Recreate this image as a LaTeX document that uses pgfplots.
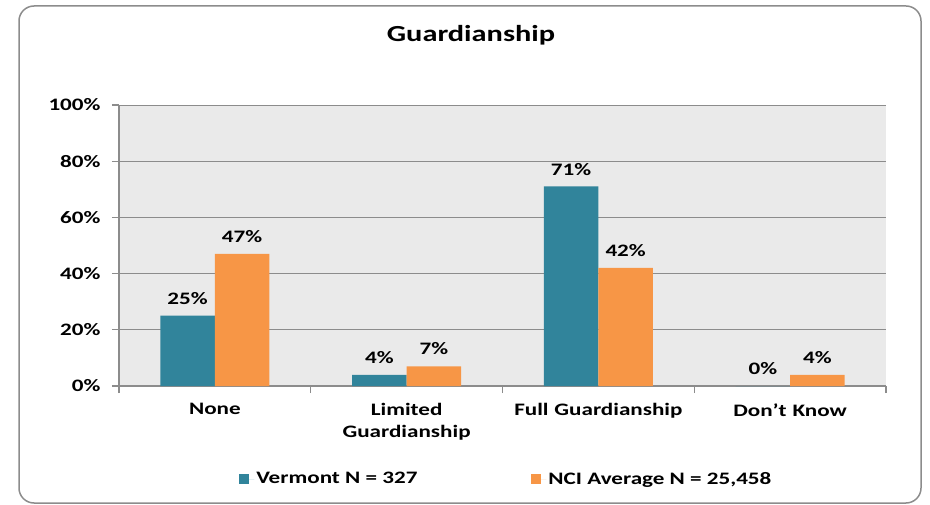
\documentclass[border=0pt]{standalone}
\usepackage{fontspec}
\setmainfont{Carlito}[FakeStretch=1.32]
\usepackage{pgfplots}
\pgfplotsset{compat=1.18}
\definecolor{teal1}{HTML}{31849B}
\definecolor{orange1}{HTML}{F79646}
\definecolor{bgray}{HTML}{EAEAEA}
\definecolor{lgray}{HTML}{8C8C8C}
\begin{document}
\begin{tikzpicture}[x=1pt,y=1pt]
\path[use as bounding box] (0,0) rectangle (930,504);
\draw[lgray, line width=1.5pt, rounded corners=15pt] (19,1) rectangle (921,498);
\node[anchor=base, inner sep=0pt, font=\fontsize{23}{27}\selectfont\bfseries] at (471,462) {Guardianship};
\begin{axis}[
  at={(119pt,118pt)}, anchor=south west,
  width=767pt, height=281pt, scale only axis,
  xmin=-0.5, xmax=3.5, ymin=0, ymax=100,
  ybar=0pt, bar width=54.5pt,
  axis background/.style={fill=bgray},
  axis x line*=bottom, axis y line*=left,
  axis line style={lgray, line width=1.2pt},
  ymajorgrids, grid style={lgray, line width=0.9pt},
  tick align=outside, major tick length=7pt,
  ytick={0,20,40,60,80,100},
  yticklabels={0\%,20\%,40\%,60\%,80\%,100\%},
  ytick style={lgray, line width=1.2pt},
  y tick label style={font=\fontsize{17.5}{21}\selectfont\bfseries, xshift=-8pt},
  xtick={0,1,2,3},
  xticklabels={None, Limited Guardianship, Full Guardianship, Don’t Know},
  xtick style={draw=none},
  x tick label style={font=\fontsize{17.5}{22}\selectfont\bfseries, text width=175pt, align=center, yshift=-7pt},
  extra x ticks={-0.5,0.5,1.5,2.5,3.5},
  extra x tick labels={},
  extra x tick style={grid=none, xtick style={draw=lgray, line width=1.2pt}},
  nodes near coords={\pgfmathprintnumber[assume math mode=true]{\pgfplotspointmeta}\%},
  every node near coord/.append style={font=\fontsize{17.5}{21}\selectfont\bfseries, inner sep=0pt, anchor=south, yshift=11pt, text=black},
  legend image code/.code={\fill[#1] (0pt,-5pt) rectangle (10pt,5pt); \path (0pt,0pt) -- (15pt,0pt);},
  legend style={at={(0.505,-0.331)}, anchor=center, draw=none, fill=none,
    legend columns=2, font=\fontsize{17.5}{21}\selectfont\bfseries,
    /tikz/every even column/.append style={column sep=112pt}},
]
\addplot[fill=teal1, draw=none] coordinates {(0,25) (1,4) (2,71) (3,0)};
\addplot[fill=orange1, draw=none] coordinates {(0,47) (1,7) (2,42) (3,4)};
\legend{Vermont N = 327, {NCI Average N = 25,458}}
\end{axis}
\end{tikzpicture}
\end{document}
